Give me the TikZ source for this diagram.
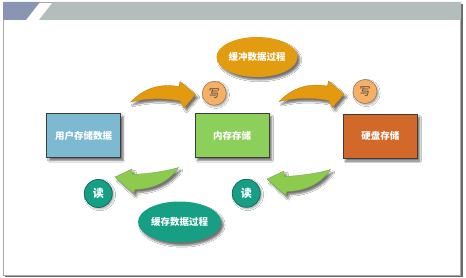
\documentclass[tikz,border=0pt]{standalone}
\usepackage{fontspec}
\newfontfamily\cjk{Noto Sans CJK SC}
\usetikzlibrary{shapes.geometric,shadows.blur}
\definecolor{hdrblue}{HTML}{8896B4}
\definecolor{hdrgray}{HTML}{B3BDBC}
\definecolor{framegray}{HTML}{A8A8A8}
\definecolor{framesh}{HTML}{6A6A6A}
\definecolor{boxline}{HTML}{3C3C3C}
\definecolor{bluefill}{HTML}{7DB9D0}
\definecolor{greenfill}{HTML}{8DCF5B}
\definecolor{orangefill}{HTML}{D2692A}
\definecolor{goldfill}{HTML}{E39B10}
\definecolor{tealfill}{HTML}{179F85}
\definecolor{tealline}{HTML}{0F6E5C}
\definecolor{wfill}{HTML}{F5B066}
\definecolor{wline}{HTML}{9A7A5A}
\definecolor{wtext}{HTML}{444444}
\definecolor{arrorange}{HTML}{E49A0E}
\definecolor{arrgreen}{HTML}{8DCB4E}
\tikzset{
  shd/.style={blur shadow={shadow xshift=2.5pt, shadow yshift=-3pt, shadow blur steps=6, shadow opacity=55}},
  stbox/.style={draw=boxline, line width=0.8pt, minimum width=74pt, minimum height=44pt, inner sep=0pt,
    font=\cjk\bfseries\fontsize{9.5}{11}\selectfont, text=white, shd},
  procell/.style={ellipse, draw=none, inner sep=0pt, minimum width=81pt, minimum height=40pt,
    font=\cjk\bfseries\fontsize{9.5}{11}\selectfont, text=white, shd},
  wcirc/.style={circle, fill=wfill, draw=wline, line width=0.6pt, minimum size=24pt, inner sep=0pt,
    font=\cjk\fontsize{11}{12}\selectfont, text=wtext, blur shadow={shadow xshift=1.5pt, shadow yshift=-1.5pt, shadow opacity=35}},
  rcirc/.style={circle, fill=tealfill, draw=tealline, line width=0.8pt, minimum size=28pt, inner sep=0pt,
    font=\cjk\bfseries\fontsize{11}{12}\selectfont, text=white, blur shadow={shadow xshift=1.5pt, shadow yshift=-1.5pt, shadow opacity=35}},
  oarrow/.style={fill=arrorange, draw=arrorange!80!black, line width=0.3pt, shd},
  garrow/.style={fill=arrgreen, draw=arrgreen!80!black, line width=0.3pt, shd},
  pics/writearrow/.style={code={
    \path[oarrow] (-65,7.5) .. controls (-50.5,-7) and (-35.5,-11) .. (-16.5,-8)
      -- (-15.5,-13) -- (0,0) -- (-11.5,13.5) -- (-15.5,6.5)
      .. controls (-33.5,3) and (-50.5,4) .. cycle;
  }},
  pics/readarrow/.style={code={
    \path[garrow] (0,0) -- (17,-8) -- (17.5,-2.5)
      .. controls (35,-3.5) and (50,-5.5) .. (63.5,-9.5)
      .. controls (53,6) and (37,12) .. (20,12.5)
      -- (18.5,16.5) -- cycle;
  }}
}
\begin{document}
\begin{tikzpicture}[x=1pt,y=-1pt]
\useasboundingbox (0,0) rectangle (466,278);
% frame
\fill[framesh] (5,4) rectangle (462.5,277);
\filldraw[fill=white, draw=framegray, line width=0.8pt] (3,2) rectangle (460.5,275);
% header
\fill[hdrblue] (3,2) -- (40,2) -- (26,20) -- (3,20) -- cycle;
\fill[hdrgray] (53,2) -- (461,2) -- (461,20) -- (39,20) -- cycle;
% arrows
\pic at (195.5,94.5) {writearrow};
\pic at (344,94) {writearrow};
\pic at (115,177) {readarrow};
\pic at (267,179) {readarrow};
% boxes
\node[stbox, fill=bluefill] (user) at (83.7,135.5) {用户存储数据};
\node[stbox, fill=greenfill] (mem) at (232.2,135.5) {内存存储};
\node[stbox, fill=orangefill] (disk) at (380.3,136) {硬盘存储};
% ellipses
\node[procell, fill=goldfill] (buf) at (257,57) {缓冲数据过程};
\node[procell, fill=tealfill, minimum width=83pt, minimum height=41pt] (cache) at (179.5,222) {缓存数据过程};
% circles
\node[wcirc] (w1) at (214.3,93.3) {写};
\node[wcirc] (w2) at (365,91.5) {写};
\node[rcirc] (r1) at (98.3,193.5) {读};
\node[rcirc] (r2) at (246.3,193.3) {读};
\end{tikzpicture}
\end{document}
